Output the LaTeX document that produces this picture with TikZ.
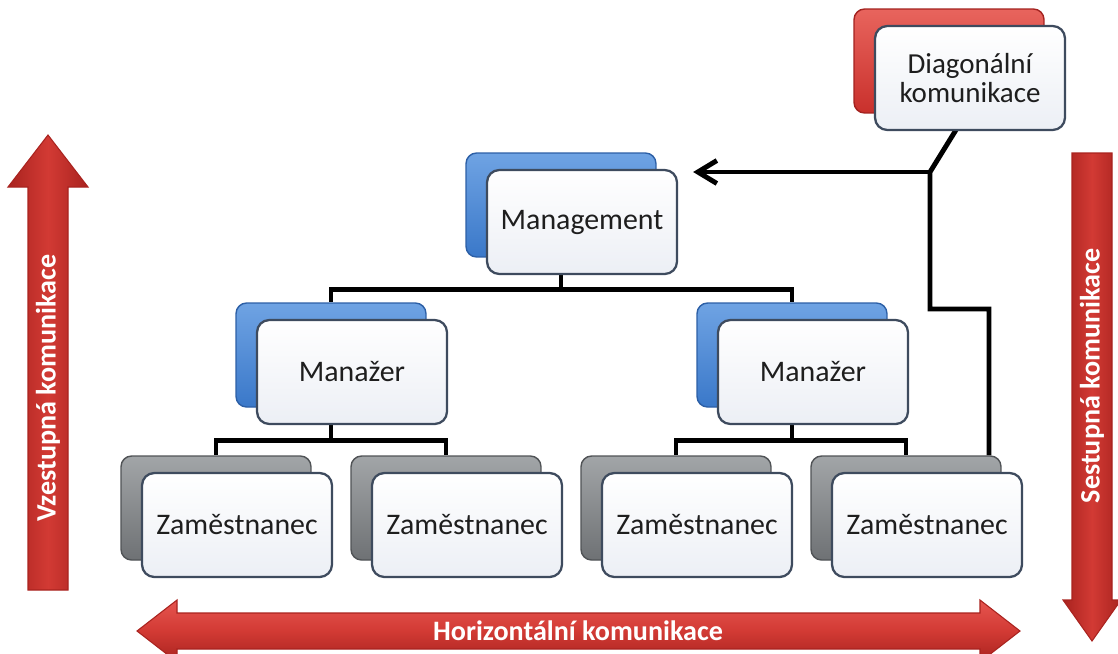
\documentclass[tikz,border=0pt]{standalone}
\usepackage{fontspec}
\setmainfont{Carlito}
\usetikzlibrary{arrows.meta}
\pgfdeclarelayer{background}
\pgfsetlayers{background,main}
\definecolor{blueL}{HTML}{6FA3E3}
\definecolor{blueM}{HTML}{3A78C9}
\definecolor{blueD}{HTML}{2C5FA6}
\definecolor{greyL}{HTML}{A2A5A8}
\definecolor{greyM}{HTML}{6E7174}
\definecolor{greyD}{HTML}{505356}
\definecolor{redL}{HTML}{E8645D}
\definecolor{redM}{HTML}{C9302C}
\definecolor{redD}{HTML}{A3221F}
\definecolor{frameC}{HTML}{3E4B5E}
\definecolor{frontB}{HTML}{ECEFF5}
\definecolor{arrowL}{HTML}{E65550}
\definecolor{arrowM}{HTML}{D23A34}
\definecolor{arrowD}{HTML}{A9231F}
\definecolor{textC}{HTML}{1E1E1E}

\begin{document}
\begin{tikzpicture}[x=0.02cm, y=-0.02cm,
    >={Straight Barb[length=3.8mm,width=4.6mm]},
    conn/.style={line width=2.8pt, black},
    backbox/.style={rectangle, rounded corners=6pt, line width=0.8pt, minimum width=3.8cm, minimum height=2.08cm},
    blueback/.style={backbox, draw=blueD, top color=blueL, bottom color=blueM},
    greyback/.style={backbox, draw=greyD, top color=greyL, bottom color=greyM},
    redback/.style={backbox, draw=redD, top color=redL, bottom color=redM},
    frontbox/.style={rectangle, rounded corners=7pt, draw=frameC, line width=1.3pt, top color=white, bottom color=frontB, minimum width=3.8cm, minimum height=2.08cm, text=textC, align=center, font=\fontsize{17}{20}\selectfont},
    bigarrow/.style={draw=arrowD, line width=0.6pt},
    arrowtext/.style={text=white, font=\bfseries\fontsize{16}{18}\selectfont}]
   \useasboundingbox (0,0) rectangle (1118,653);
   % top level
   \node[blueback] (mgmtB) at (561,205) {};
   \node[frontbox] (mgmt) at (582,222) {Management};
   % managers
   \node[blueback] (manLB) at (331,355) {};
   \node[frontbox] (manL) at (352,372) {Manažer};
   \node[blueback] (manRB) at (792,355) {};
   \node[frontbox] (manR) at (813,372) {Manažer};
   % employees
   \node[greyback] (zamB1) at (216,508) {};
   \node[frontbox] (zam1) at (237,525) {Zaměstnanec};
   \node[greyback] (zamB2) at (446,508) {};
   \node[frontbox] (zam2) at (467,525) {Zaměstnanec};
   \node[greyback] (zamB3) at (676,508) {};
   \node[frontbox] (zam3) at (697,525) {Zaměstnanec};
   \node[greyback] (zamB4) at (906,508) {};
   \node[frontbox] (zam4) at (927,525) {Zaměstnanec};
   % diagonal
   \node[redback] (diagB) at (949,61) {};
   \node[frontbox, font=\fontsize{16.5}{16}\selectfont] (diag) at (970,78) {Diagonální\\komunikace};
   % big arrows
   \path[bigarrow, left color=arrowD, right color=arrowD, middle color=arrowM]
      (48,135) -- (88,187) -- (68,187) -- (68,590) -- (28,590) -- (28,187) -- (8,187) -- cycle;
   \node[arrowtext, rotate=90] (up) at (48,388) {Vzestupná komunikace};
   \path[bigarrow, left color=arrowD, right color=arrowD, middle color=arrowM]
      (1072,153) -- (1112,153) -- (1112,600) -- (1121,600) -- (1092,641) -- (1063,600) -- (1072,600) -- cycle;
   \node[arrowtext, rotate=90] (down) at (1092,376) {Sestupná komunikace};
   \path[bigarrow, top color=arrowL, bottom color=arrowD, middle color=arrowM]
      (137,631) -- (177,600) -- (177,613) -- (980,613) -- (980,600) -- (1020,631) -- (980,662) -- (980,649) -- (177,649) -- (177,662) -- cycle;
   \node[arrowtext] (side) at (578,631) {Horizontální komunikace};
   % connectors
   \begin{pgfonlayer}{background}
   \draw[conn] (mgmtB.south) -- ++(0,32) -| (manLB.north);
   \draw[conn] (mgmtB.south) -- ++(0,32) -| (manRB.north);
   \draw[conn] (manLB.south) -- ++(0,33) -| (zamB1.north);
   \draw[conn] (manLB.south) -- ++(0,33) -| (zamB2.north);
   \draw[conn] (manRB.south) -- ++(0,33) -| (zamB3.north);
   \draw[conn] (manRB.south) -- ++(0,33) -| (zamB4.north);
   \coordinate (dj) at (930,172);
   \coordinate (rj) at (989,309);
   \draw[conn] ([xshift=0.36cm]diag.center) -- (dj) -- (dj |- rj) -- (rj) -- (rj |- zamB4.north);
   \draw[conn, ->, shorten >=0.3cm] (dj) -- (mgmt.east |- dj);
   \end{pgfonlayer}
\end{tikzpicture}
\end{document}
